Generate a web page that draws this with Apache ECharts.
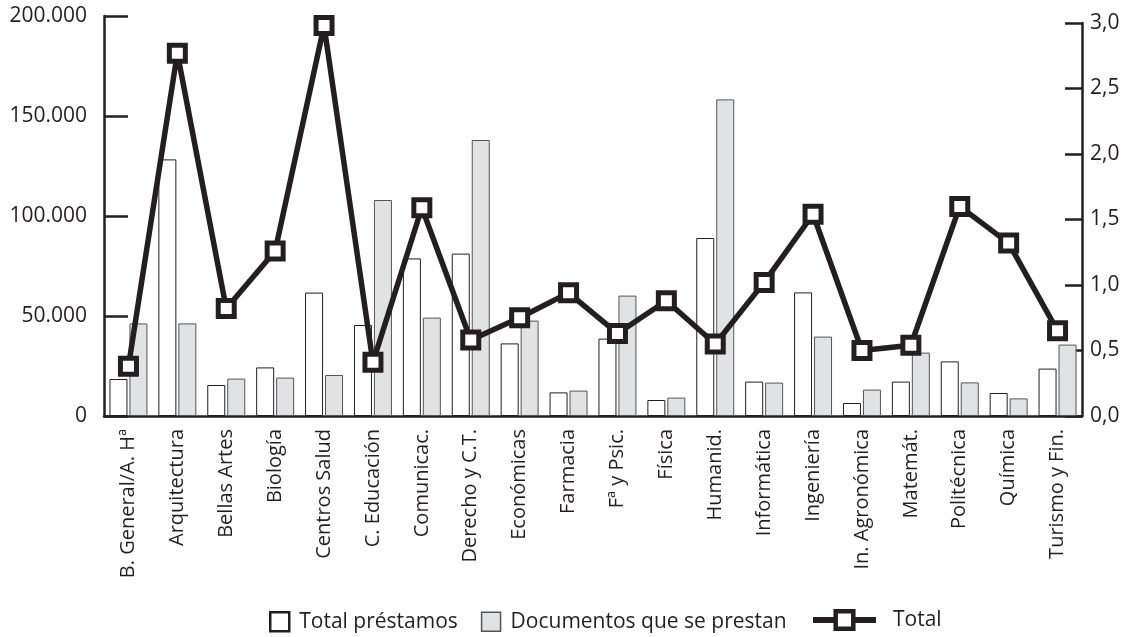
<!DOCTYPE html>
<html>
<head>
<meta charset="utf-8">
<script src="https://cdn.jsdelivr.net/npm/echarts@6/dist/echarts.min.js"></script>
<style>
html,body{margin:0;padding:0;background:#fff;}
#chart{width:1127px;height:637px;}
</style>
</head>
<body>
<div id="chart"></div>
<script>
const categories = ['B. General/A. Hª','Arquitectura','Bellas Artes','Biología','Centros Salud','C. Educación','Comunicac.','Derecho y C.T.','Económicas','Farmacia','Fª y Psic.','Física','Humanid.','Informática','Ingeniería','In. Agronómica','Matemát.','Politécnica','Química','Turismo y Fin.'];
const totalPrestamos = [18500,128300,15500,24300,61700,45500,78800,81200,36300,11800,38700,8000,89000,17200,61800,6500,17200,27300,11500,23700];
const documentos = [46300,46300,18700,19200,20500,108000,49200,138000,47700,12700,60200,9200,158300,16700,39700,13200,31700,16800,8800,35700];
const total = [0.38,2.77,0.82,1.26,2.98,0.41,1.59,0.58,0.75,0.94,0.63,0.88,0.55,1.02,1.54,0.50,0.54,1.60,1.32,0.65];
const leftTicks = ['0','50.000','100.000','150.000','200.000'];
const rightTicks = ['0,0','0,5','1,0','1,5','2,0','2,5','3,0'];

const FONT = 'Open Sans';
const INK = '#231f20';
const chart = echarts.init(document.getElementById('chart'), null, {renderer:'canvas'});
chart.setOption({
  animation:false,
  backgroundColor:'#fff',
  textStyle:{fontFamily:FONT,color:INK},
  grid:[
    {left:104,right:45,top:16,bottom:221,containLabel:false},
    {left:104,right:45,top:23,bottom:221,containLabel:false}
  ],
  legend:[
    {data:[{name:'Total préstamos',itemStyle:{borderWidth:2.5,borderColor:INK}},
           {name:'Documentos que se prestan',itemStyle:{borderWidth:1.5,borderColor:'#555555'}}],
     left:269,top:611,itemWidth:19,itemHeight:19,itemGap:23,icon:'rect',padding:0,
     textStyle:{fontFamily:FONT,fontSize:21,color:INK,padding:[0,0,0,5]}},
    {data:[{name:'Total',itemStyle:{borderWidth:4.5,borderColor:INK,color:'#ffffff'}}],
     left:810,top:609,itemWidth:63,itemHeight:22,padding:0,
     lineStyle:{width:6,color:INK},
     textStyle:{fontFamily:FONT,fontSize:21,color:INK,padding:[0,0,0,12]}}
  ],
  xAxis:[
    {type:'category',gridIndex:0,data:categories,boundaryGap:true,
     axisLine:{lineStyle:{color:INK,width:2.5}},
     axisTick:{inside:true,length:9,lineStyle:{color:INK,width:2.5}},
     axisLabel:{rotate:90,margin:13,fontSize:20,color:INK,fontFamily:FONT,interval:0}},
    {type:'category',gridIndex:1,data:categories,boundaryGap:true,show:false}
  ],
  yAxis:[
    {type:'value',gridIndex:0,min:0,max:200000,interval:50000,position:'left',
     axisLine:{show:true,lineStyle:{color:INK,width:2.5}},
     axisTick:{show:true,inside:true,length:24,lineStyle:{color:INK,width:2.5}},
     splitLine:{show:false},
     axisLabel:{margin:17,fontSize:21,color:INK,fontFamily:FONT,formatter:(v)=>leftTicks[Math.round(v/50000)]}},
    {type:'value',gridIndex:1,min:0,max:3,interval:0.5,position:'right',
     axisLine:{show:true,lineStyle:{color:INK,width:2.5}},
     axisTick:{show:true,inside:true,length:17,lineStyle:{color:INK,width:2.5}},
     splitLine:{show:false},
     axisLabel:{margin:8,fontSize:21,color:INK,fontFamily:FONT,formatter:(v)=>rightTicks[Math.round(v/0.5)]}}
  ],
  series:[
    {name:'Total préstamos',type:'bar',xAxisIndex:0,yAxisIndex:0,data:totalPrestamos,barWidth:18,barGap:'11%',
     itemStyle:{color:'#ffffff',borderColor:INK,borderWidth:1}},
    {name:'Documentos que se prestan',type:'bar',xAxisIndex:0,yAxisIndex:0,data:documentos,barWidth:18,barGap:'11%',
     itemStyle:{color:'#e1e2e4',borderColor:'#555555',borderWidth:1}},
    {name:'Total',type:'line',xAxisIndex:1,yAxisIndex:1,data:total,z:5,
     symbol:'rect',symbolSize:16,showAllSymbol:true,
     lineStyle:{color:INK,width:5.5},
     itemStyle:{color:'#ffffff',borderColor:INK,borderWidth:5}}
  ]
});
</script>
</body>
</html>
